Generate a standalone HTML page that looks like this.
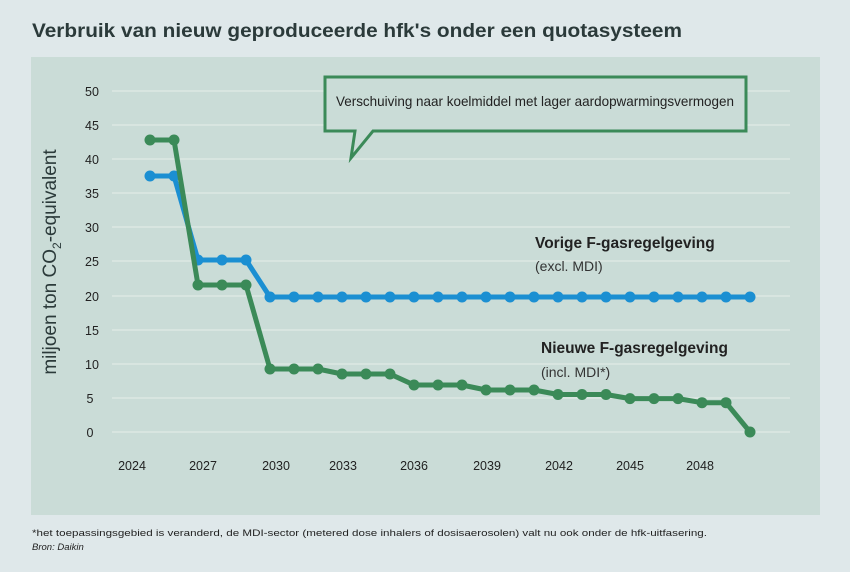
<!DOCTYPE html>
<html><head><meta charset="utf-8"><style>
body{margin:0;width:850px;height:567px;background:#dfe8ea;overflow:hidden;font-family:"Liberation Sans",sans-serif}
</style></head><body>
<svg width="850" height="567" viewBox="0 0 850 567" xmlns="http://www.w3.org/2000/svg" font-family="Liberation Sans, sans-serif">
<rect width="850" height="567" fill="#dfe8ea"/>
<text x="32" y="37" font-size="19" font-weight="bold" fill="#2b3a3a" textLength="650" lengthAdjust="spacingAndGlyphs">Verbruik van nieuw geproduceerde hfk's onder een quotasysteem</text>
<rect x="31" y="57" width="789" height="458" fill="#cadcd7"/>
<g stroke="#dce8e4" stroke-width="1.5">
<line x1="112" y1="91" x2="790" y2="91"/><line x1="112" y1="125" x2="790" y2="125"/>
<line x1="112" y1="159" x2="790" y2="159"/><line x1="112" y1="193" x2="790" y2="193"/>
<line x1="112" y1="227" x2="790" y2="227"/><line x1="112" y1="261" x2="790" y2="261"/>
<line x1="112" y1="296" x2="790" y2="296"/><line x1="112" y1="330" x2="790" y2="330"/>
<line x1="112" y1="364" x2="790" y2="364"/><line x1="112" y1="398" x2="790" y2="398"/>
<line x1="112" y1="432" x2="790" y2="432"/>
</g>
<g font-size="12.5" fill="#222" text-anchor="middle">
<text x="92" y="96">50</text><text x="92" y="130">45</text><text x="92" y="164">40</text><text x="92" y="198">35</text><text x="92" y="232">30</text><text x="92" y="266">25</text><text x="92" y="301">20</text><text x="92" y="335">15</text><text x="92" y="369">10</text><text x="90" y="403">5</text><text x="90" y="437">0</text>
<text x="132" y="470">2024</text><text x="203" y="470">2027</text><text x="276" y="470">2030</text><text x="343" y="470">2033</text><text x="414" y="470">2036</text><text x="487" y="470">2039</text><text x="559" y="470">2042</text><text x="630" y="470">2045</text><text x="700" y="470">2048</text>
</g>
<text transform="translate(56,262) rotate(-90)" text-anchor="middle" font-size="19" fill="#2b3a3a">miljoen ton CO<tspan font-size="12" dy="5">2</tspan><tspan dy="-5">-equivalent</tspan></text>
<g fill="none" stroke="#1b8fd2" stroke-width="5" stroke-linejoin="round">
<polyline points="150,176 174,176 198,260 222,260 246,260 270,297 750,297"/>
</g>
<g fill="#1b8fd2">
<circle cx="150" cy="176" r="5.5"/><circle cx="174" cy="176" r="5.5"/><circle cx="198" cy="260" r="5.5"/><circle cx="222" cy="260" r="5.5"/><circle cx="246" cy="260" r="5.5"/>
<circle cx="270" cy="297" r="5.5"/><circle cx="294" cy="297" r="5.5"/><circle cx="318" cy="297" r="5.5"/><circle cx="342" cy="297" r="5.5"/><circle cx="366" cy="297" r="5.5"/><circle cx="390" cy="297" r="5.5"/><circle cx="414" cy="297" r="5.5"/><circle cx="438" cy="297" r="5.5"/><circle cx="462" cy="297" r="5.5"/><circle cx="486" cy="297" r="5.5"/><circle cx="510" cy="297" r="5.5"/><circle cx="534" cy="297" r="5.5"/><circle cx="558" cy="297" r="5.5"/><circle cx="582" cy="297" r="5.5"/><circle cx="606" cy="297" r="5.5"/><circle cx="630" cy="297" r="5.5"/><circle cx="654" cy="297" r="5.5"/><circle cx="678" cy="297" r="5.5"/><circle cx="702" cy="297" r="5.5"/><circle cx="726" cy="297" r="5.5"/><circle cx="750" cy="297" r="5.5"/>
</g>
<g fill="none" stroke="#3b8a58" stroke-width="5" stroke-linejoin="round">
<polyline points="150,140 174,140 198,285 222,285 246,285 270,369 294,369 318,369 342,374 366,374 390,374 414,385 438,385 462,385 486,390 510,390 534,390 558,394.5 582,394.5 606,394.5 630,398.6 654,398.6 678,398.6 702,402.7 726,402.7 750,432"/>
</g>
<g fill="#3b8a58">
<circle cx="150" cy="140" r="5.5"/><circle cx="174" cy="140" r="5.5"/><circle cx="198" cy="285" r="5.5"/><circle cx="222" cy="285" r="5.5"/><circle cx="246" cy="285" r="5.5"/><circle cx="270" cy="369" r="5.5"/><circle cx="294" cy="369" r="5.5"/><circle cx="318" cy="369" r="5.5"/><circle cx="342" cy="374" r="5.5"/><circle cx="366" cy="374" r="5.5"/><circle cx="390" cy="374" r="5.5"/><circle cx="414" cy="385" r="5.5"/><circle cx="438" cy="385" r="5.5"/><circle cx="462" cy="385" r="5.5"/><circle cx="486" cy="390" r="5.5"/><circle cx="510" cy="390" r="5.5"/><circle cx="534" cy="390" r="5.5"/><circle cx="558" cy="394.5" r="5.5"/><circle cx="582" cy="394.5" r="5.5"/><circle cx="606" cy="394.5" r="5.5"/><circle cx="630" cy="398.6" r="5.5"/><circle cx="654" cy="398.6" r="5.5"/><circle cx="678" cy="398.6" r="5.5"/><circle cx="702" cy="402.7" r="5.5"/><circle cx="726" cy="402.7" r="5.5"/><circle cx="750" cy="432" r="5.5"/>
</g>
<path d="M325,77 H746 V131 H373 L351,158 L355,131 H325 Z" fill="#cadcd7" stroke="#3b8a58" stroke-width="3" stroke-linejoin="miter"/>
<text x="336" y="106" font-size="14" fill="#222" textLength="398" lengthAdjust="spacingAndGlyphs">Verschuiving naar koelmiddel met lager aardopwarmingsvermogen</text>
<text x="535" y="248" font-size="15.5" font-weight="bold" fill="#222">Vorige F-gasregelgeving</text>
<text x="535" y="271" font-size="14" fill="#333">(excl. MDI)</text>
<text x="541" y="353" font-size="15.5" font-weight="bold" fill="#222">Nieuwe F-gasregelgeving</text>
<text x="541" y="377" font-size="14" fill="#333">(incl. MDI*)</text>
<text x="32" y="536" font-size="9.5" fill="#222" textLength="675" lengthAdjust="spacingAndGlyphs">*het toepassingsgebied is veranderd, de MDI-sector (metered dose inhalers of dosisaerosolen) valt nu ook onder de hfk-uitfasering.</text>
<text x="32" y="550" font-size="9.5" font-style="italic" fill="#222">Bron: Daikin</text>
</svg>
</body></html>
